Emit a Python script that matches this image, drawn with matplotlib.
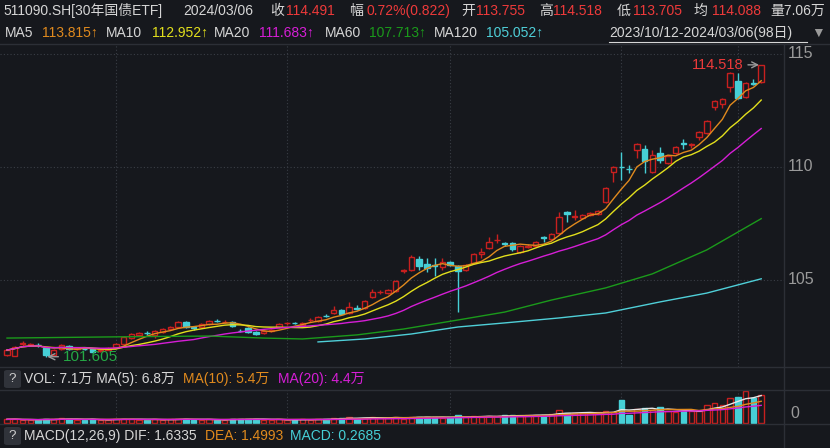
import matplotlib.pyplot as plt
import matplotlib.transforms as mtransforms
from matplotlib.patches import FancyBboxPatch
import numpy as np
import pandas as pd

plt.rcParams['font.family'] = ['Liberation Sans', 'Noto Sans CJK SC', 'DejaVu Sans']

# 511090 日K 2023/10/12 - 2024/03/06 (98日)
opens = [101.68, 101.64, 102.18, 102.12, 102.14, 101.99, 101.68, 101.95, 102.08, 101.95,
         101.96, 101.94, 101.85, 101.92, 102.03, 102.17, 102.43, 102.57, 102.67, 102.57,
         102.70, 102.83, 102.92, 103.14, 102.90, 102.92, 103.05, 103.20, 103.13, 103.14,
         102.76, 102.88, 102.70, 102.65, 102.74, 102.92, 103.08, 103.11, 103.01, 103.21,
         103.19, 103.42, 103.54, 103.67, 103.54, 103.74, 103.76, 104.25, 104.45, 104.42,
         104.51, 105.38, 105.44, 105.93, 105.71, 105.68, 105.57, 105.80, 105.62, 105.44,
         105.75, 106.15, 106.42, 106.75, 106.62, 106.64, 106.24, 106.48, 106.50, 106.88,
         106.81, 107.08, 108.01, 107.77, 107.74, 107.88, 107.92, 108.45, 109.78, 110.02,
         109.93, 110.75, 110.80, 109.78, 110.62, 110.18, 110.62, 111.04, 110.99, 111.33,
         111.50, 112.65, 112.79, 113.54, 113.81, 113.10, 113.70, 113.755]
closes = [101.90, 102.03, 102.21, 102.16, 102.12, 101.68, 101.90, 102.12, 101.95, 101.99,
          101.94, 101.82, 101.92, 101.97, 102.17, 102.48, 102.61, 102.65, 102.64, 102.75,
          102.83, 102.92, 103.14, 102.92, 102.87, 103.05, 103.19, 103.18, 103.16, 102.96,
          102.74, 102.70, 102.61, 102.74, 102.80, 103.05, 103.10, 103.09, 103.10, 103.24,
          103.36, 103.40, 103.67, 103.49, 103.80, 103.72, 104.07, 104.47, 104.47, 104.56,
          104.96, 105.42, 106.02, 105.62, 105.53, 105.64, 105.80, 105.66, 105.40, 105.66,
          106.15, 106.24, 106.68, 106.79, 106.59, 106.37, 106.50, 106.52, 106.68, 106.84,
          107.03, 107.79, 107.92, 107.81, 107.88, 107.96, 108.05, 109.07, 110.00, 110.00,
          109.91, 111.02, 110.26, 110.53, 110.31, 110.49, 110.88, 111.00, 111.02, 111.55,
          112.04, 112.92, 113.00, 114.15, 113.05, 113.72, 113.669, 114.491]
highs = [101.95, 102.08, 102.30, 102.22, 102.22, 102.02, 101.95, 102.16, 102.12, 102.05,
         102.03, 101.97, 101.98, 102.02, 102.22, 102.52, 102.65, 102.70, 102.75, 102.78,
         102.87, 102.97, 103.18, 103.17, 102.98, 103.09, 103.22, 103.27, 103.22, 103.18,
         102.84, 102.92, 102.74, 102.78, 102.85, 103.10, 103.16, 103.16, 103.14, 103.32,
         103.40, 103.48, 103.85, 103.70, 104.03, 103.90, 104.10, 104.60, 104.55, 104.60,
         105.00, 105.47, 106.10, 106.06, 105.97, 105.97, 105.97, 105.84, 105.68, 105.70,
         106.20, 106.42, 106.90, 107.03, 106.70, 106.68, 106.55, 106.58, 106.72, 106.95,
         107.07, 108.01, 108.05, 108.10, 107.92, 108.00, 108.10, 109.12, 110.04, 110.66,
         110.09, 111.06, 110.97, 110.75, 110.88, 110.55, 110.93, 111.24, 111.06, 111.59,
         112.08, 112.96, 113.05, 114.20, 114.16, 113.76, 113.90, 114.518]
lows = [101.64, 101.62, 102.10, 102.08, 102.05, 101.605, 101.65, 101.92, 101.92, 101.90,
        101.88, 101.78, 101.80, 101.88, 101.98, 102.13, 102.38, 102.52, 102.55, 102.44,
        102.66, 102.78, 102.88, 102.88, 102.80, 102.88, 103.00, 103.12, 103.08, 102.92,
        102.68, 102.66, 102.58, 102.60, 102.70, 102.88, 103.03, 103.04, 102.97, 103.12,
        103.15, 103.35, 103.50, 103.46, 103.50, 103.68, 103.72, 104.20, 104.38, 104.38,
        104.47, 105.30, 105.40, 105.44, 105.35, 105.18, 105.44, 105.62, 103.58, 105.40,
        105.70, 105.97, 106.38, 106.64, 106.52, 106.30, 106.20, 106.42, 106.46, 106.68,
        106.77, 107.04, 107.57, 107.66, 107.70, 107.84, 107.88, 108.40, 109.34, 109.42,
        109.73, 110.40, 109.73, 109.74, 110.18, 110.14, 110.58, 110.80, 110.85, 111.20,
        111.46, 112.52, 112.61, 113.32, 113.00, 113.05, 113.63, 113.705]
# 成交量 (万)
volume = [0.8, 0.9, 0.6, 0.7, 0.6, 1.0, 0.8, 1.1, 0.9, 0.6,
          0.7, 0.9, 0.6, 0.7, 0.8, 1.0, 0.9, 0.7, 0.6, 0.8,
          0.7, 0.8, 0.9, 1.0, 0.6, 0.7, 0.8, 0.6, 0.7, 0.9,
          0.8, 1.0, 0.9, 0.7, 0.6, 0.8, 0.6, 0.7, 0.8, 0.7,
          0.9, 0.8, 1.1, 1.2, 1.3, 1.0, 1.2, 1.4, 1.1, 1.2,
          1.4, 1.0, 1.5, 1.5, 1.4, 1.3, 1.2, 1.3, 1.8, 1.3,
          1.6, 1.5, 1.7, 1.6, 1.8, 1.9, 1.7, 1.8, 2.0, 2.0,
          2.2, 3.1, 2.4, 2.3, 2.4, 2.5, 2.6, 2.8, 2.6, 5.7,
          2.0, 3.4, 3.7, 3.2, 3.9, 2.8, 2.7, 2.9, 2.8, 2.9,
          4.5, 5.0, 4.4, 6.2, 6.5, 7.9, 6.3, 7.06]
# MA60 / MA120 (need history before the window)
ma60_idx = [0, 13, 26, 33, 38, 45, 51, 58, 64, 70, 77, 83, 90, 97]
ma60_val = [102.43, 102.48, 102.52, 102.43, 102.39, 102.57, 102.83, 103.23, 103.58,
            104.11, 104.65, 105.27, 106.33, 107.713]
ma120_idx = [40, 46, 52, 58, 64, 71, 77, 84, 90, 97]
ma120_val = [102.26, 102.39, 102.61, 102.92, 103.10, 103.32, 103.54, 104.03, 104.42, 105.052]
month_start = [14, 36, 57, 79, 94]

bg = '#16181d'
line_c = '#2c2f36'
grid_c = '#3a3e46'
red = '#c8201f'
red_txt = '#ee3a3a'
cyan = '#46cfd6'
white = '#d6d6d6'
c_ma5, c_ma10, c_ma20, c_ma60, c_ma120 = '#e08a1e', '#e2df1c', '#d61ed6', '#1b9a1b', '#4fcfd8'
fs = 10

W, H = 830, 448
fig = plt.figure(figsize=(W / 100, H / 100), dpi=100, facecolor=bg)


def ftext(x, y, s, color=white, size=fs, **kw):
    fig.text(x / W, 1 - y / H, s, color=color, fontsize=size, va='center', ha='left', **kw)


n = len(closes)
x = np.arange(n)
o = np.array(opens)
c = np.array(closes)
hi = np.array(highs)
lo = np.array(lows)
up = c >= o

ax = fig.add_axes([0, 1 - 367 / H, 784 / W, (367 - 44) / H])
ax.set_facecolor(bg)
ax.set_xlim(-0.9, 99.93)
ax.set_ylim(101.15, 115.44)
for lvl in [105, 110, 115]:
    ax.axhline(lvl, color=grid_c, lw=0.8, ls=(0, (1, 2)), zorder=0)
for m in month_start:
    ax.axvline(m, color=grid_c, lw=0.8, ls=(0, (1, 2)), zorder=0)

cols = np.where(up, red, cyan)
ax.vlines(x, lo, hi, colors=cols, lw=1, zorder=2)
body = np.maximum(np.abs(c - o), 0.015)
ax.bar(x, body, bottom=np.minimum(o, c), width=0.7,
       color=np.where(up, bg, cyan), edgecolor=cols, linewidth=1, zorder=3)

s = pd.Series(closes)
ax.plot(x, s.rolling(5, min_periods=1).mean(), color=c_ma5, lw=1, zorder=4)
ax.plot(x, s.rolling(10, min_periods=1).mean(), color=c_ma10, lw=1, zorder=4)
ax.plot(x, s.rolling(20, min_periods=1).mean(), color=c_ma20, lw=1, zorder=4)
ax.plot(ma60_idx, ma60_val, color=c_ma60, lw=1, zorder=4)
ax.plot(ma120_idx, ma120_val, color=c_ma120, lw=1, zorder=4)

ih = int(np.argmax(hi))
ax.annotate(f'{hi[ih]:.3f}', xy=(ih - 0.1, hi[ih]), xytext=(-12, 0), textcoords='offset points',
            color=red_txt, fontsize=10.5, va='center', ha='right',
            arrowprops=dict(arrowstyle='->', color='#9a9a9a', lw=1, shrinkA=1, shrinkB=1))
il = int(np.argmin(lo))
ax.annotate(f'{lo[il]:.3f}', xy=(il, lo[il]), xytext=(12, 0), textcoords='offset points',
            color='#25a845', fontsize=11, va='center', ha='left',
            arrowprops=dict(arrowstyle='->', color='#9a9a9a', lw=1, shrinkA=1, shrinkB=1))

tr = mtransforms.blended_transform_factory(ax.transAxes, ax.transData)
for lvl in [105, 110, 115]:
    ax.text(1.005, lvl, str(lvl), transform=tr, color='#9a9a9a', fontsize=11.5,
            va='center', ha='left', clip_on=False)
for sp in ax.spines.values():
    sp.set_visible(False)
ax.set_xticks([])
ax.set_yticks([])

# volume panel
vax = fig.add_axes([0, 1 - 424 / H, 784 / W, (424 - 390) / H])
vax.set_facecolor(bg)
vax.set_xlim(-0.9, 99.93)
vax.set_ylim(-0.375, 8.2)
for m in month_start:
    vax.axvline(m, color=grid_c, lw=0.8, ls=(0, (1, 2)), zorder=0)
vol = np.array(volume)
vax.bar(x, vol, width=0.7, color=np.where(up, bg, cyan), edgecolor=cols, linewidth=1, zorder=2)
vs = pd.Series(volume)
vax.plot(x, vs.rolling(5, min_periods=1).mean(), color='#e6e6e6', lw=1, zorder=3)
vax.plot(x, vs.rolling(10, min_periods=1).mean(), color=c_ma5, lw=1, zorder=3)
vax.plot(x, vs.rolling(20, min_periods=1).mean(), color=c_ma20, lw=1, zorder=3)
for sp in vax.spines.values():
    sp.set_visible(False)
vax.set_xticks([])
vax.set_yticks([])
ftext(790, 413, '0', color='#9a9a9a', size=11.5)

# frame lines
for yy in [44, 367, 390, 424]:
    fig.add_artist(plt.Line2D([0, 1], [1 - yy / H] * 2, color=line_c, lw=1))
fig.add_artist(plt.Line2D([784 / W] * 2, [0, 1 - 44 / H], color=line_c, lw=1))

# header row 1
ftext(3, 11, '511090.SH[30年国债ETF]')
ftext(183, 11, '2024/03/06')
ftext(270, 11, '收')
ftext(286, 11, '114.491', red_txt)
ftext(349, 11, '幅')
ftext(366, 11, '0.72%(0.822)', red_txt)
ftext(461, 11, '开')
ftext(476, 11, '113.755', red_txt)
ftext(539, 11, '高')
ftext(553, 11, '114.518', red_txt)
ftext(617, 11, '低')
ftext(633, 11, '113.705', red_txt)
ftext(693, 11, '均')
ftext(712, 11, '114.088', red_txt)
ftext(770, 11, '量7.06万')

# header row 2
ftext(5, 33, 'MA5')
ftext(42, 33, '113.815↑', c_ma5)
ftext(106, 33, 'MA10')
ftext(152, 33, '112.952↑', c_ma10)
ftext(214, 33, 'MA20')
ftext(259, 33, '111.683↑', c_ma20)
ftext(325, 33, 'MA60')
ftext(369, 33, '107.713↑', c_ma60)
ftext(434, 33, 'MA120')
ftext(486, 33, '105.052↑', c_ma120)
ftext(609, 33, '2023/10/12-2024/03/06(98日)')
fig.add_artist(plt.Line2D([609 / W, 807 / W], [1 - 42 / H] * 2, color=white, lw=0.8))
ftext(811, 33, '▼', '#9a9a9a', size=10)

# volume / macd headers
for yy in [379, 436]:
    fig.add_artist(FancyBboxPatch((4 / W, 1 - (yy + 9) / H), 17 / W, 18 / H,
                                  boxstyle='round,pad=0,rounding_size=0.004',
                                  transform=fig.transFigure, facecolor='#30333a', edgecolor='none'))
    ftext(8, yy, '?', '#cfcfcf', size=9.5)
ftext(24, 379, 'VOL: 7.1万 MA(5): 6.8万')
ftext(183, 379, 'MA(10): 5.4万', c_ma5)
ftext(278, 379, 'MA(20): 4.4万', c_ma20)
ftext(24, 436, 'MACD(12,26,9) DIF: 1.6335')
ftext(205, 436, 'DEA: 1.4993', c_ma5)
ftext(290, 436, 'MACD: 0.2685', cyan)

fig.savefig('out.png', dpi=100, facecolor=bg)
